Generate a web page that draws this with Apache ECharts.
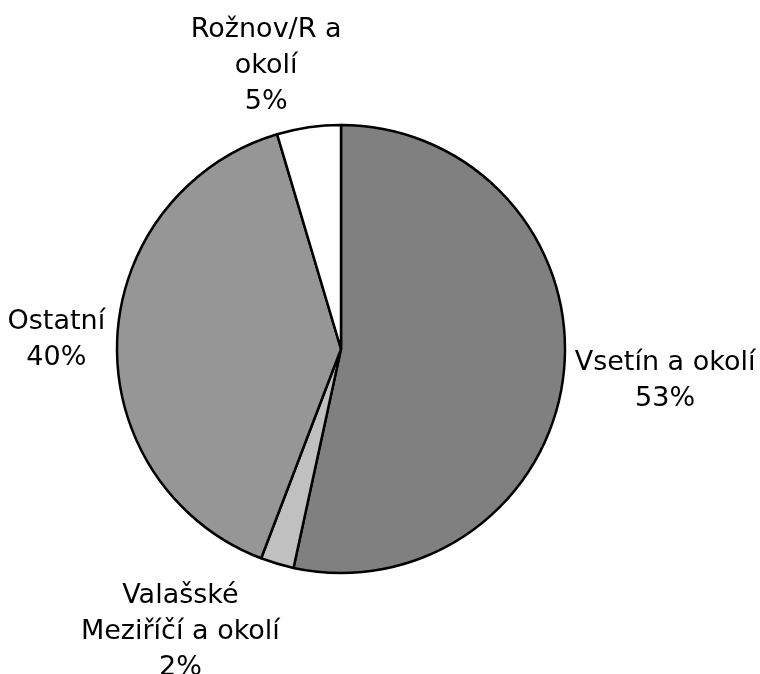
<!DOCTYPE html>
<html>
<head>
<meta charset="utf-8">
<script src="https://cdn.jsdelivr.net/npm/echarts@6/dist/echarts.min.js"></script>
<style>
  html, body { margin: 0; padding: 0; background: #fff; }
  #main { width: 760px; height: 674px; }
</style>
</head>
<body>
<div id="main"></div>
<script>
// podíly oblastí (v %)
var names = ['Vsetín a okolí', 'Valašské Meziříčí a okolí', 'Ostatní', 'Rožnov/R a okolí'];
var labels = ['Vsetín a okolí', 'Valašské\nMeziříčí a okolí', 'Ostatní', 'Rožnov/R a\nokolí'];
var values = [53.4, 2.4, 39.6, 4.6];
var colors = ['#808080', '#c0c0c0', '#969696', '#ffffff'];

var init_chart = function() {
    var myChart = echarts.init(document.getElementById('main'));

    var data = [];
    for (var i = 0; i < names.length; i++) {
        data.push({
            name: names[i],
            value: values[i],
            itemStyle: { color: colors[i] }
        });
    }

    // posun popisků jako v Excelu (px)
    var shift = [[-2, 7], [10, 61], [1, 0], [39, -53]];

    var option = {
        animation: false,
        series: [{
            type: 'pie',
            center: [341, 349],
            radius: 224,
            startAngle: 90,
            clockwise: true,
            avoidLabelOverlap: false,
            percentPrecision: 0,
            data: data,
            itemStyle: { borderColor: '#000', borderWidth: 2.5 },
            label: {
                position: 'outside',
                overflow: 'none',
                fontFamily: 'DejaVu Sans',
                fontSize: 27,
                lineHeight: 36,
                color: '#000',
                formatter: function(p) {
                    return labels[p.dataIndex] + '\n' + p.percent + '%';
                }
            },
            labelLine: { show: false, length: 8, length2: 0 },
            // text v popiscích zarovnat na střed
            labelLayout: function(p) {
                var r = p.labelRect;
                var s = shift[p.dataIndex];
                return {
                    x: r.x + r.width / 2 + s[0],
                    y: r.y + r.height / 2 + s[1],
                    align: 'center',
                    verticalAlign: 'middle'
                };
            }
        }]
    };

    myChart.setOption(option);
};

init_chart();
</script>
</body>
</html>
